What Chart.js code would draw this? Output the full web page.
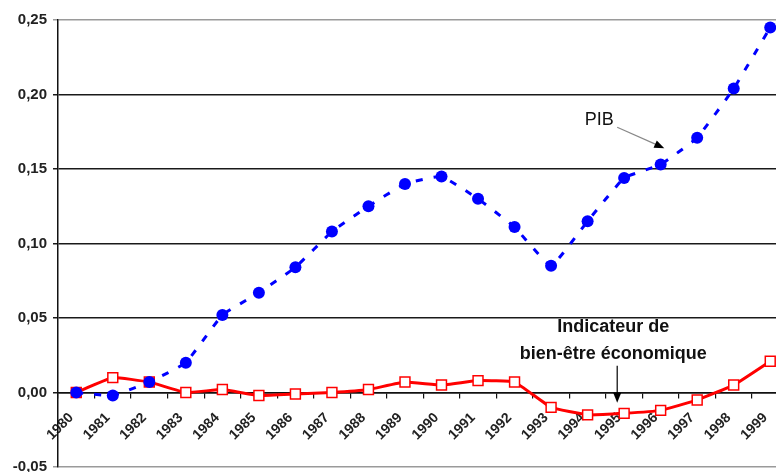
<!DOCTYPE html>
<html>
<head>
<meta charset="utf-8">
<script src="https://cdn.jsdelivr.net/npm/chart.js@4/dist/chart.umd.min.js"></script>
<style>
  html, body { margin: 0; padding: 0; background: #fff; overflow: hidden; }
  /* the plot runs a bit past the right and bottom edges of the window, as in the source */
  #wrap { width: 797px; height: 476px; position: relative; }
</style>
</head>
<body>
<div id="wrap"><canvas id="chart"></canvas></div>
<script>
const years = ["1980", "1981", "1982", "1983", "1984", "1985", "1986", "1987", "1988", "1989",
  "1990", "1991", "1992", "1993", "1994", "1995", "1996", "1997", "1998", "1999"]
const pib = [0.000, -0.002, 0.007, 0.020, 0.052, 0.067, 0.084, 0.108, 0.125, 0.140,
  0.145, 0.130, 0.111, 0.085, 0.115, 0.144, 0.153, 0.171, 0.204, 0.245]
const indicateur = [0.000, 0.010, 0.007, 0.000, 0.002, -0.002, -0.001, 0.000, 0.002, 0.007,
  0.005, 0.008, 0.007, -0.010, -0.015, -0.014, -0.012, -0.005, 0.005, 0.021]
const yMin = -0.05
const yMax = 0.25
const yStep = 0.05

// Labels with arrows, placed in data units: [category index, value]
const notes = [
  { lines: ["PIB"], font: "18px 'Liberation Sans'", at: [14.32, 0.183], from: [14.81, 0.178], to: [16.1, 0.164], stroke: "#888" },
  { lines: ["Indicateur de", "bien-être économique"], font: "bold 18px 'Liberation Sans'", at: [14.7, 0.0437], lineGap: 0.018, from: [14.81, 0.018], to: [14.81, -0.0068], stroke: "#000" },
]

const xFont = { family: "'Liberation Sans', Arial, sans-serif", size: 14, weight: "bold" }
// small lineHeight so the edge labels do not push the plot area inwards
const yFont = { family: "'Liberation Sans', Arial, sans-serif", size: 15, weight: "bold", lineHeight: 0.4 }
const isEdge = (v) => Math.abs(v - yMin) < 1e-9 || Math.abs(v - yMax) < 1e-9

const notesPlugin = {
  id: "notes",
  afterDatasetsDraw(chart) {
    const { ctx, scales: { x, y } } = chart
    ctx.save()
    ctx.textAlign = "center"
    ctx.textBaseline = "middle"
    for (const n of notes) {
      ctx.font = n.font
      ctx.fillStyle = "#111"
      n.lines.forEach((t, i) => {
        ctx.fillText(t, x.getPixelForValue(n.at[0]), y.getPixelForValue(n.at[1] - i * (n.lineGap || 0)))
      })
      const x0 = x.getPixelForValue(n.from[0]), y0 = y.getPixelForValue(n.from[1])
      const x1 = x.getPixelForValue(n.to[0]), y1 = y.getPixelForValue(n.to[1])
      const a = Math.atan2(y1 - y0, x1 - x0)
      ctx.strokeStyle = n.stroke
      ctx.lineWidth = 1.2
      ctx.beginPath()
      ctx.moveTo(x0, y0)
      ctx.lineTo(x1 - 8 * Math.cos(a), y1 - 8 * Math.sin(a))
      ctx.stroke()
      ctx.fillStyle = "#000"
      ctx.beginPath()
      ctx.moveTo(x1, y1)
      ctx.lineTo(x1 - 10 * Math.cos(a) + 4 * Math.sin(a), y1 - 10 * Math.sin(a) - 4 * Math.cos(a))
      ctx.lineTo(x1 - 10 * Math.cos(a) - 4 * Math.sin(a), y1 - 10 * Math.sin(a) + 4 * Math.cos(a))
      ctx.closePath()
      ctx.fill()
    }
    ctx.restore()
  },
}

new Chart(document.getElementById("chart"), {
  type: "line",
  data: {
    labels: years,
    datasets: [
      {
        label: "PIB",
        data: pib,
        borderColor: "#0000ff",
        backgroundColor: "#0000ff",
        borderWidth: 3,
        borderDash: [7, 11],
        tension: 0.1,
        pointRadius: 6,
        pointBorderWidth: 0,
      },
      {
        label: "Indicateur de bien-être économique",
        data: indicateur,
        borderColor: "#ff0000",
        backgroundColor: "#ffffff",
        borderWidth: 3,
        tension: 0.1,
        pointStyle: "rect",
        pointRadius: 7,
        pointBorderWidth: 1.5,
        pointBorderColor: "#ff0000",
      },
    ],
  },
  options: {
    responsive: true,
    maintainAspectRatio: false,
    animation: false,
    layout: { padding: { top: 20, bottom: 6, left: 0, right: 0 } },
    plugins: { legend: { display: false }, tooltip: { enabled: false } },
    scales: {
      x: {
        position: { y: 0 },
        offset: true,
        grid: { offset: true, drawOnChartArea: false, drawTicks: true, tickLength: 5, color: "#111", lineWidth: 1.2 },
        border: { display: true, color: "#111", width: 1.5 },
        ticks: { autoSkip: false, minRotation: 45, maxRotation: 45, padding: 12, labelOffset: -5, color: "#222", font: xFont },
      },
      y: {
        min: yMin,
        max: yMax,
        afterFit: (scale) => { scale.width = 58 },
        grid: {
          color: (c) => (isEdge(c.tick.value) ? "#9a9a9a" : "#1a1a1a"),
          lineWidth: 1.5,
          tickLength: 5,
        },
        border: { display: true, color: "#111", width: 1.5 },
        ticks: {
          stepSize: yStep,
          padding: 6,
          color: "#222",
          font: yFont,
          callback: (v) => (Math.abs(v) < 1e-9 ? 0 : v).toFixed(2).replace(".", ","),
        },
      },
    },
  },
  plugins: [notesPlugin],
})
</script>
</body>
</html>
